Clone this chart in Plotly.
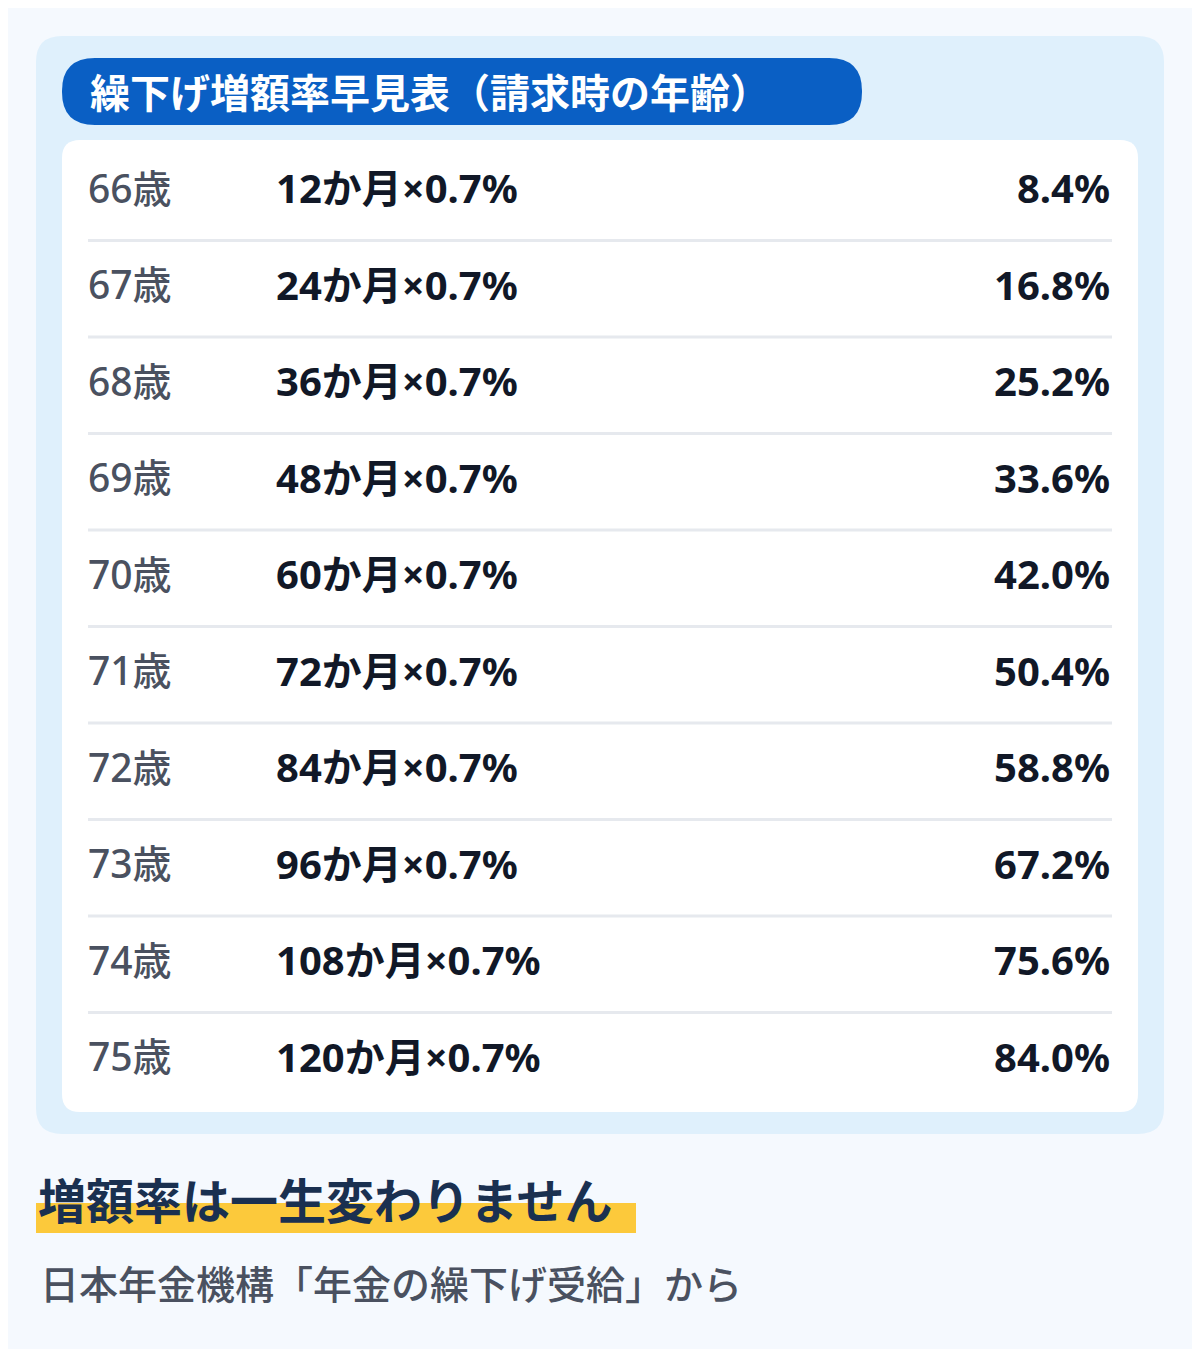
import plotly.graph_objects as go

ages = ["66歳", "67歳", "68歳", "69歳", "70歳", "71歳", "72歳", "73歳", "74歳", "75歳"]
months = [12, 24, 36, 48, 60, 72, 84, 96, 108, 120]
rate_per_month = "0.7%"
increase = ["8.4%", "16.8%", "25.2%", "33.6%", "42.0%", "50.4%", "58.8%", "67.2%", "75.6%", "84.0%"]

title = "繰下げ増額率早見表（請求時の年齢）"
note = "増額率は一生変わりません"
source = "日本年金機構「年金の繰下げ受給」から"

W, H = 1200, 1349
OFF = 8  # page body margin
FONT = "Noto Sans CJK JP"
MIX = "Noto Sans, Noto Sans CJK JP"
row_y = [193 + i * 96.5 for i in range(len(ages))]


def rounded(x0, y0, x1, y1, r):
    return (f"M{x0+r},{y0} L{x1-r},{y0} Q{x1},{y0} {x1},{y0+r} L{x1},{y1-r} Q{x1},{y1} {x1-r},{y1} "
            f"L{x0+r},{y1} Q{x0},{y1} {x0},{y1-r} L{x0},{y0+r} Q{x0},{y0} {x0+r},{y0} Z")


shapes = [
    dict(type="rect", x0=-20, x1=W + 20, y0=-20, y1=H + 20, fillcolor="#f5f9fe", line_width=0, layer="below"),
    dict(type="path", path=rounded(36, 36, 1164, 1134, 26), fillcolor="#dff0fc", line_width=0, layer="below"),
    dict(type="path", path=rounded(62, 58, 862, 125, 33), fillcolor="#0a5fc4", line_width=0, layer="below"),
    dict(type="path", path=rounded(62, 140, 1138, 1112, 18), fillcolor="#ffffff", line_width=0, layer="below"),
    dict(type="rect", x0=36, x1=636, y0=1203, y1=1233, fillcolor="#fcc93b", line_width=0, layer="below"),
]
for y in row_y[:-1]:
    yy = y + 47.5
    shapes.append(dict(type="line", x0=88, x1=1112, y0=yy, y1=yy, line=dict(color="#e6e9ee", width=3), layer="below"))

fig = go.Figure()
fig.add_trace(go.Scatter(x=[88] * len(ages), y=row_y, text=ages, mode="text", textposition="middle right",
                         textfont=dict(family=MIX, size=39, color="#4a5160", weight=500), hoverinfo="skip"))
fig.add_trace(go.Scatter(x=[276] * len(ages), y=row_y, text=[f"{m}か月×{rate_per_month}" for m in months],
                         mode="text", textposition="middle right",
                         textfont=dict(family=MIX, size=40, color="#111827", weight=700), hoverinfo="skip"))
fig.add_trace(go.Scatter(x=[1110] * len(ages), y=row_y, text=increase, mode="text", textposition="middle left",
                         textfont=dict(family=MIX, size=40, color="#111827", weight=700), hoverinfo="skip"))

fig.add_annotation(x=88, y=91, text=title, showarrow=False, xanchor="left", yanchor="middle",
                   font=dict(family=FONT, size=40, color="#ffffff", weight=700))
fig.add_annotation(x=36, y=1198, text=note, showarrow=False, xanchor="left", yanchor="middle",
                   font=dict(family=FONT, size=48, color="#1a3050", weight=700))
fig.add_annotation(x=38, y=1282, text=source, showarrow=False, xanchor="left", yanchor="middle",
                   font=dict(family=FONT, size=39, color="#4a5160", weight=500))

fig.update_layout(
    width=W, height=H, margin=dict(l=0, r=0, t=0, b=0),
    paper_bgcolor="#f5f9fe", plot_bgcolor="#f5f9fe", showlegend=False, shapes=shapes,
    xaxis=dict(range=[OFF, W + OFF], visible=False, fixedrange=True),
    yaxis=dict(range=[H + OFF, OFF], visible=False, fixedrange=True),
)
fig.write_html("out.html", config={"displayModeBar": False})
